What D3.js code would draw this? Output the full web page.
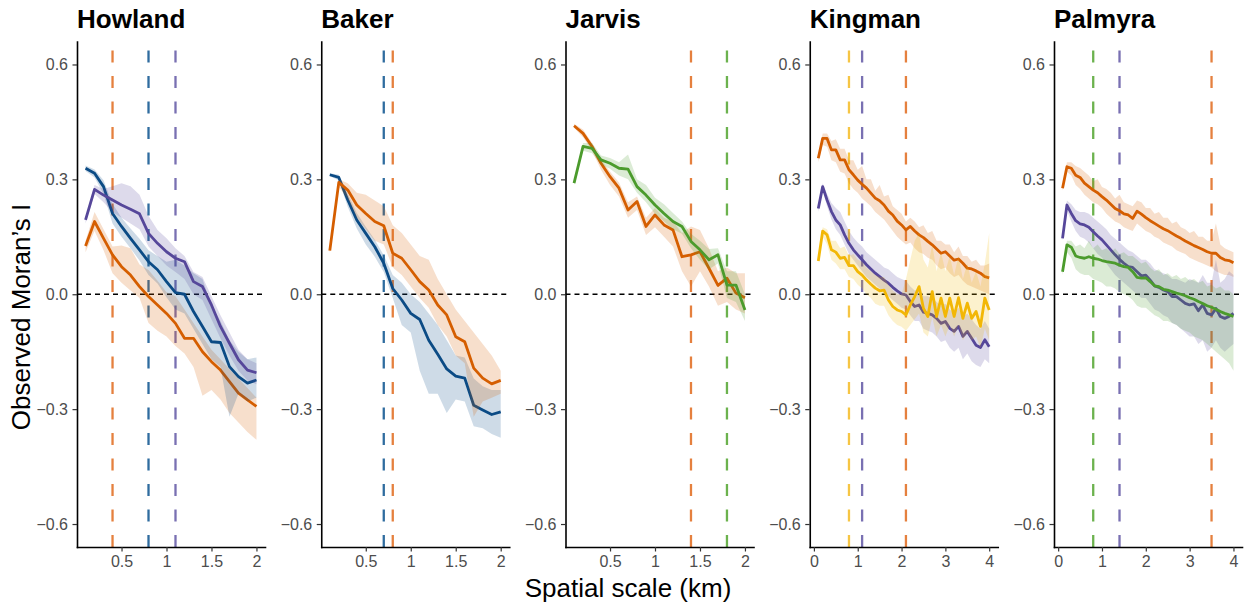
<!DOCTYPE html>
<html>
<head>
<meta charset="utf-8">
<script src="https://cdn.jsdelivr.net/npm/d3@7/dist/d3.min.js"></script>
<style>
  html, body { margin: 0; padding: 0; background: #fff; }
  svg { display: block; font-family: "Liberation Sans", Arial, sans-serif; }
</style>
</head>
<body>
<svg id="chart" width="1244" height="604"></svg>
<script>
// ---------------- DATA ----------------
const panelTitles = ["Howland", "Baker", "Jarvis", "Kingman", "Palmyra"];
const yTickValues = [-0.6, -0.3, 0, 0.3, 0.6];
const xTicksShort = [0.5, 1, 1.5, 2];
const xTicksLong = [0, 1, 2, 3, 4];

const scaleShort = [0.1,0.2,0.3,0.4,0.5,0.6,0.7,0.8,0.9,1.0,1.1,1.2,1.3,1.4,1.5,1.6,1.7,1.8,1.9,2.0];
const scaleLong = [0.1,0.2,0.3,0.4,0.5,0.6,0.7,0.8,0.9,1.0,1.1,1.2,1.3,1.4,1.5,1.6,1.7,1.8,1.9,2.0,
                   2.1,2.2,2.3,2.4,2.5,2.6,2.7,2.8,2.9,3.0,3.1,3.2,3.3,3.4,3.5,3.6,3.7,3.8,3.9,4.0];

// Howland
const howlandOrange   = [0.126,0.19,0.146,0.103,0.072,0.05,0.02,-0.006,-0.028,-0.05,-0.076,-0.115,-0.115,-0.15,-0.176,-0.198,-0.228,-0.258,-0.276,-0.293];
const howlandOrangeLo = [0.11,0.165,0.115,0.055,0.03,0.01,-0.01,-0.075,-0.095,-0.11,-0.135,-0.155,-0.19,-0.265,-0.25,-0.275,-0.31,-0.335,-0.36,-0.38];
const howlandOrangeHi = [0.14,0.215,0.17,0.125,0.127,0.12,0.078,0.063,0.035,0.005,-0.005,-0.04,-0.075,-0.11,-0.145,-0.17,-0.195,-0.22,-0.245,-0.27];
const howlandBlue     = [0.329,0.316,0.281,0.211,0.177,0.146,0.116,0.085,0.064,0.033,0.004,0.0,-0.045,-0.084,-0.124,-0.126,-0.189,-0.215,-0.232,-0.224];
const howlandBlueLo   = [0.322,0.305,0.262,0.185,0.15,0.12,0.088,0.05,0.028,-0.008,-0.04,-0.05,-0.09,-0.13,-0.17,-0.19,-0.32,-0.26,-0.28,-0.27];
const howlandBlueHi   = [0.336,0.326,0.298,0.236,0.2,0.172,0.145,0.115,0.1,0.085,0.09,0.075,0.055,0.04,-0.03,-0.07,-0.12,-0.15,-0.17,-0.165];
const howlandPurple   = [0.194,0.274,0.259,0.246,0.233,0.222,0.21,0.159,0.133,0.111,0.094,0.085,0.033,0.02,-0.028,-0.084,-0.128,-0.171,-0.198,-0.205];
const howlandPurpleLo = [0.185,0.262,0.24,0.215,0.2,0.185,0.17,0.125,0.1,0.075,0.058,0.04,0.0,-0.015,-0.065,-0.115,-0.16,-0.2,-0.225,-0.235];
const howlandPurpleHi = [0.2,0.285,0.275,0.282,0.29,0.282,0.26,0.205,0.168,0.146,0.12,0.1,0.058,0.045,-0.005,-0.055,-0.1,-0.145,-0.17,-0.18];

// Baker
const bakerBlue     = [0.312,0.305,0.246,0.194,0.159,0.124,0.081,0.015,-0.015,-0.05,-0.066,-0.12,-0.157,-0.195,-0.214,-0.219,-0.29,-0.302,-0.314,-0.307];
const bakerBlueLo   = [0.308,0.298,0.228,0.172,0.13,0.098,0.058,-0.01,-0.08,-0.1,-0.2,-0.26,-0.26,-0.31,-0.275,-0.28,-0.345,-0.35,-0.365,-0.375];
const bakerBlueHi   = [0.316,0.312,0.262,0.212,0.176,0.142,0.102,0.05,0.03,0.0,-0.02,-0.05,-0.08,-0.12,-0.16,-0.165,-0.22,-0.24,-0.25,-0.25];
const bakerOrange   = [0.114,0.292,0.272,0.233,0.211,0.19,0.179,0.107,0.094,0.064,0.033,0.011,-0.028,-0.054,-0.111,-0.124,-0.193,-0.219,-0.234,-0.225];
const bakerOrangeLo = [0.108,0.28,0.25,0.2,0.17,0.14,0.13,0.07,0.05,0.02,-0.01,-0.035,-0.08,-0.11,-0.16,-0.18,-0.32,-0.28,-0.27,-0.26];
const bakerOrangeHi = [0.12,0.3,0.29,0.265,0.26,0.245,0.23,0.18,0.16,0.13,0.1,0.09,0.04,0.0,-0.04,-0.07,-0.1,-0.13,-0.16,-0.2];

// Jarvis
const jarvisOrange   = [0.44,0.42,0.386,0.342,0.307,0.277,0.22,0.242,0.177,0.207,0.181,0.168,0.098,0.103,0.111,0.068,0.023,0.042,0.003,-0.009];
const jarvisOrangeLo = [0.435,0.41,0.375,0.325,0.285,0.255,0.2,0.22,0.155,0.175,0.15,0.125,0.06,0.02,0.06,0.02,-0.03,-0.02,-0.04,-0.05];
const jarvisOrangeHi = [0.445,0.43,0.395,0.352,0.32,0.292,0.24,0.255,0.2,0.225,0.2,0.19,0.16,0.177,0.168,0.12,0.06,0.07,0.055,0.055];
const jarvisGreen    = [0.29,0.386,0.381,0.351,0.342,0.329,0.327,0.281,0.259,0.233,0.211,0.19,0.177,0.138,0.116,0.09,0.103,0.024,0.024,-0.041];
const jarvisGreenLo  = [0.285,0.375,0.368,0.338,0.328,0.31,0.3,0.265,0.24,0.21,0.19,0.17,0.158,0.12,0.09,0.065,0.08,-0.01,-0.02,-0.07];
const jarvisGreenHi  = [0.295,0.395,0.395,0.362,0.356,0.345,0.365,0.3,0.285,0.252,0.235,0.212,0.19,0.158,0.14,0.118,0.12,0.06,0.06,0.0];

// Kingman
const kingmanOrange   = [0.355,0.407,0.407,0.377,0.377,0.351,0.351,0.325,0.312,0.298,0.287,0.277,0.264,0.251,0.244,0.233,0.217,0.207,0.191,0.181,0.168,0.177,0.165,0.155,0.148,0.138,0.129,0.118,0.107,0.111,0.1,0.089,0.092,0.081,0.068,0.066,0.061,0.055,0.046,0.043];
const kingmanOrangeLo = [0.345,0.39,0.385,0.35,0.345,0.32,0.315,0.29,0.275,0.265,0.25,0.24,0.23,0.215,0.205,0.195,0.18,0.165,0.15,0.14,0.13,0.135,0.12,0.11,0.105,0.095,0.09,0.075,0.065,0.07,0.055,0.045,0.05,0.035,0.025,0.02,0.015,0.01,0.005,0.0];
const kingmanOrangeHi = [0.365,0.42,0.42,0.4,0.405,0.38,0.38,0.35,0.35,0.325,0.335,0.3,0.3,0.27,0.285,0.255,0.26,0.23,0.22,0.21,0.19,0.2,0.19,0.175,0.18,0.16,0.165,0.14,0.14,0.13,0.13,0.11,0.125,0.1,0.1,0.085,0.09,0.075,0.075,0.08];
const kingmanPurple   = [0.224,0.281,0.246,0.216,0.194,0.181,0.155,0.133,0.116,0.103,0.09,0.077,0.066,0.055,0.046,0.037,0.029,0.018,0.009,0.001,-0.002,-0.019,-0.032,-0.028,-0.047,-0.05,-0.054,-0.063,-0.076,-0.071,-0.089,-0.097,-0.084,-0.11,-0.097,-0.115,-0.133,-0.139,-0.119,-0.137];
const kingmanPurpleLo = [0.215,0.27,0.23,0.195,0.17,0.155,0.13,0.105,0.09,0.075,0.06,0.045,0.035,0.025,0.015,0.005,-0.005,-0.015,-0.025,-0.035,-0.04,-0.055,-0.07,-0.07,-0.09,-0.095,-0.1,-0.11,-0.125,-0.12,-0.14,-0.15,-0.14,-0.17,-0.155,-0.175,-0.185,-0.19,-0.17,-0.18];
const kingmanPurpleHi = [0.232,0.29,0.262,0.238,0.225,0.215,0.19,0.165,0.148,0.135,0.125,0.11,0.1,0.09,0.08,0.07,0.065,0.055,0.045,0.04,0.035,0.02,0.01,0.012,-0.005,-0.005,-0.01,-0.02,-0.03,-0.025,-0.04,-0.05,-0.035,-0.06,-0.05,-0.065,-0.08,-0.09,-0.07,-0.09];
const kingmanYellow   = [0.087,0.165,0.155,0.116,0.11,0.094,0.096,0.075,0.075,0.059,0.05,0.037,0.026,0.016,0.009,0.011,-0.015,-0.032,-0.041,-0.045,-0.054,-0.028,-0.006,0.02,-0.037,-0.058,0.007,-0.058,-0.01,-0.058,-0.01,-0.058,-0.009,-0.063,-0.023,-0.063,-0.045,-0.084,-0.01,-0.041];
const kingmanYellowLo = [0.08,0.15,0.13,0.09,0.08,0.065,0.065,0.045,0.04,0.025,0.015,0.0,-0.01,-0.025,-0.03,-0.03,-0.055,-0.07,-0.08,-0.085,-0.095,-0.08,-0.065,-0.05,-0.1,-0.11,-0.06,-0.11,-0.08,-0.11,-0.08,-0.11,-0.08,-0.12,-0.1,-0.12,-0.11,-0.14,-0.09,-0.12];
const kingmanYellowHi = [0.095,0.175,0.17,0.14,0.14,0.12,0.125,0.1,0.105,0.09,0.085,0.07,0.06,0.05,0.045,0.045,0.025,0.01,0.0,0.0,0.04,0.09,0.14,0.16,0.09,0.07,0.13,0.06,0.11,0.06,0.1,0.05,0.1,0.04,0.08,0.03,0.06,0.02,0.08,0.16];

// Palmyra
const palmyraOrange   = [0.277,0.333,0.329,0.311,0.305,0.29,0.281,0.272,0.265,0.255,0.246,0.235,0.224,0.218,0.21,0.207,0.198,0.217,0.209,0.2,0.192,0.185,0.178,0.171,0.166,0.159,0.152,0.146,0.139,0.133,0.127,0.122,0.117,0.111,0.107,0.107,0.096,0.09,0.088,0.082];
const palmyraOrangeLo = [0.27,0.32,0.31,0.285,0.275,0.26,0.25,0.24,0.235,0.225,0.21,0.2,0.19,0.185,0.175,0.17,0.165,0.185,0.175,0.165,0.16,0.15,0.145,0.135,0.13,0.125,0.115,0.11,0.105,0.095,0.09,0.085,0.08,0.075,0.07,0.06,0.055,0.05,0.05,0.045];
const palmyraOrangeHi = [0.285,0.345,0.345,0.335,0.33,0.32,0.31,0.295,0.3,0.28,0.275,0.265,0.25,0.26,0.24,0.235,0.23,0.245,0.24,0.225,0.225,0.21,0.215,0.2,0.2,0.185,0.19,0.175,0.17,0.16,0.165,0.15,0.15,0.14,0.14,0.185,0.13,0.12,0.115,0.11];
const palmyraPurple   = [0.146,0.233,0.211,0.192,0.184,0.181,0.175,0.163,0.152,0.142,0.129,0.116,0.103,0.091,0.081,0.072,0.07,0.059,0.048,0.05,0.037,0.022,0.018,0.011,0.007,-0.006,-0.006,-0.015,-0.024,-0.028,-0.025,-0.043,-0.028,-0.05,-0.054,-0.037,-0.058,-0.063,-0.058,-0.05];
const palmyraPurpleLo = [0.14,0.22,0.19,0.165,0.15,0.145,0.135,0.12,0.105,0.095,0.08,0.065,0.05,0.04,0.03,0.02,0.01,0.0,-0.01,-0.01,-0.025,-0.04,-0.045,-0.055,-0.06,-0.075,-0.08,-0.09,-0.1,-0.11,-0.11,-0.13,-0.12,-0.15,-0.14,-0.12,-0.14,-0.15,-0.14,-0.13];
const palmyraPurpleHi = [0.152,0.245,0.235,0.22,0.215,0.215,0.21,0.2,0.19,0.18,0.17,0.155,0.145,0.135,0.125,0.115,0.11,0.1,0.09,0.09,0.08,0.065,0.06,0.055,0.05,0.04,0.04,0.035,0.03,0.04,0.035,0.03,0.05,0.03,0.03,0.09,0.03,0.04,0.06,0.05];
const palmyraGreen    = [0.059,0.129,0.123,0.1,0.096,0.094,0.098,0.094,0.092,0.088,0.085,0.083,0.081,0.076,0.072,0.07,0.059,0.044,0.042,0.043,0.033,0.022,0.02,0.013,0.011,0.007,0.003,0.0,-0.004,-0.009,-0.013,-0.019,-0.024,-0.03,-0.034,-0.039,-0.045,-0.05,-0.054,-0.058];
const palmyraGreenLo  = [0.05,0.11,0.095,0.065,0.055,0.05,0.05,0.04,0.035,0.03,0.02,0.02,0.015,0.005,0.0,-0.005,-0.015,-0.03,-0.035,-0.035,-0.045,-0.055,-0.06,-0.07,-0.07,-0.075,-0.08,-0.09,-0.095,-0.1,-0.11,-0.115,-0.12,-0.13,-0.14,-0.15,-0.16,-0.17,-0.18,-0.2];
const palmyraGreenHi  = [0.065,0.14,0.14,0.125,0.13,0.12,0.14,0.12,0.13,0.115,0.12,0.11,0.12,0.105,0.11,0.1,0.1,0.09,0.08,0.085,0.07,0.06,0.065,0.05,0.055,0.045,0.05,0.04,0.045,0.035,0.04,0.03,0.035,0.02,0.025,0.015,0.02,0.01,0.01,0.0];

// Threshold scales (vertical dashed lines)
const howlandThresholds = [{x: 0.4, s: "orange"}, {x: 0.8, s: "blue"}, {x: 1.1, s: "purple"}];
const bakerThresholds   = [{x: 0.7, s: "blue"}, {x: 0.8, s: "orange"}];
const jarvisThresholds  = [{x: 1.4, s: "orange"}, {x: 1.8, s: "green"}];
const kingmanThresholds = [{x: 0.8, s: "yellow"}, {x: 1.1, s: "purple"}, {x: 2.1, s: "orange"}];
const palmyraThresholds = [{x: 0.8, s: "green"}, {x: 1.4, s: "purple"}, {x: 3.5, s: "orange"}];

// ---------------- STYLE ----------------
const lineColors  = {orange: "#D55E00", blue: "#0B4B85", purple: "#56479A", green: "#4B9B2C", yellow: "#F2B705"};
const vlineColors = {orange: "#E5803E", blue: "#2F6C9F", purple: "#7970B2", green: "#6CB24E", yellow: "#F6C544"};

const panels = [
  {title: panelTitles[0], xs: scaleShort, xTicks: xTicksShort, xDomain: [0.005, 2.095], vlines: howlandThresholds,
   series: [
     {s: "orange", v: howlandOrange, lo: howlandOrangeLo, hi: howlandOrangeHi},
     {s: "blue", v: howlandBlue, lo: howlandBlueLo, hi: howlandBlueHi},
     {s: "purple", v: howlandPurple, lo: howlandPurpleLo, hi: howlandPurpleHi}]},
  {title: panelTitles[1], xs: scaleShort, xTicks: xTicksShort, xDomain: [0.005, 2.095], vlines: bakerThresholds,
   series: [
     {s: "blue", v: bakerBlue, lo: bakerBlueLo, hi: bakerBlueHi},
     {s: "orange", v: bakerOrange, lo: bakerOrangeLo, hi: bakerOrangeHi}]},
  {title: panelTitles[2], xs: scaleShort, xTicks: xTicksShort, xDomain: [0.005, 2.095], vlines: jarvisThresholds,
   series: [
     {s: "orange", v: jarvisOrange, lo: jarvisOrangeLo, hi: jarvisOrangeHi},
     {s: "green", v: jarvisGreen, lo: jarvisGreenLo, hi: jarvisGreenHi}]},
  {title: panelTitles[3], xs: scaleLong, xTicks: xTicksLong, xDomain: [-0.095, 4.195], vlines: kingmanThresholds,
   series: [
     {s: "orange", v: kingmanOrange, lo: kingmanOrangeLo, hi: kingmanOrangeHi},
     {s: "purple", v: kingmanPurple, lo: kingmanPurpleLo, hi: kingmanPurpleHi},
     {s: "yellow", v: kingmanYellow, lo: kingmanYellowLo, hi: kingmanYellowHi}]},
  {title: panelTitles[4], xs: scaleLong, xTicks: xTicksLong, xDomain: [-0.095, 4.195], vlines: palmyraThresholds,
   series: [
     {s: "orange", v: palmyraOrange, lo: palmyraOrangeLo, hi: palmyraOrangeHi},
     {s: "purple", v: palmyraPurple, lo: palmyraPurpleLo, hi: palmyraPurpleHi},
     {s: "green", v: palmyraGreen, lo: palmyraGreenLo, hi: palmyraGreenHi}]}
];

// ---------------- LAYOUT ----------------
const svg = d3.select("#chart");
const firstLeft = 77, panelStep = 244.25, panelW = 188;
const panelTop = 41.5, panelBottom = 547;
const y = d3.scaleLinear().domain([-0.66, 0.66]).range([panelBottom, panelTop]);
const tickFont = 16, tickColor = "#4D4D4D";

panels.forEach((p, i) => {
  const left = firstLeft + i * panelStep;
  const x = d3.scaleLinear().domain(p.xDomain).range([left, left + panelW]);
  const g = svg.append("g");

  // zero reference line
  g.append("line")
    .attr("x1", left).attr("x2", left + panelW)
    .attr("y1", y(0)).attr("y2", y(0))
    .attr("stroke", "#000").attr("stroke-width", 1.5)
    .attr("stroke-dasharray", "5,4");

  // threshold vertical dashed lines (drawn bottom to top)
  p.vlines.forEach(vl => {
    g.append("path")
      .attr("d", `M${x(vl.x)},${panelBottom}L${x(vl.x)},${panelTop}`)
      .attr("stroke", vlineColors[vl.s]).attr("stroke-width", 2.3)
      .attr("fill", "none")
      .attr("stroke-dasharray", "12,13.5");
  });

  // series: ribbon then line
  p.series.forEach(se => {
    const pts = p.xs.map((xv, k) => ({x: xv, v: se.v[k], lo: se.lo[k], hi: se.hi[k]}));
    g.append("path")
      .datum(pts)
      .attr("d", d3.area().x(d => x(d.x)).y0(d => y(d.lo)).y1(d => y(d.hi)))
      .attr("fill", lineColors[se.s]).attr("fill-opacity", 0.2)
      .attr("stroke", "none");
    g.append("path")
      .datum(pts)
      .attr("d", d3.line().x(d => x(d.x)).y(d => y(d.v)))
      .attr("fill", "none")
      .attr("stroke", lineColors[se.s]).attr("stroke-width", 2.8)
      .attr("stroke-linejoin", "round");
  });

  // axes
  const yAxis = d3.axisLeft(y).tickValues(yTickValues)
    .tickFormat(d3.format(".1f")).tickSize(4.5).tickSizeOuter(0).tickPadding(4.5);
  const ya = g.append("g").attr("transform", `translate(${left},0)`).call(yAxis);
  const xAxis = d3.axisBottom(x).tickValues(p.xTicks)
    .tickFormat(d => String(d)).tickSize(4.5).tickSizeOuter(0).tickPadding(4);
  const xa = g.append("g").attr("transform", `translate(0,${panelBottom})`).call(xAxis);

  [ya, xa].forEach(a => {
    a.select(".domain").attr("stroke", "#000").attr("stroke-width", 1.6).attr("stroke-linecap", "square");
    a.selectAll(".tick line").attr("stroke", "#333").attr("stroke-width", 1.2);
    a.selectAll(".tick text")
      .attr("fill", tickColor)
      .style("font-size", tickFont + "px")
      .style("font-family", '"Liberation Sans", Arial, sans-serif');
  });

  // title
  svg.append("text")
    .attr("x", left).attr("y", 28)
    .style("font-size", "26px").style("font-weight", "bold")
    .attr("fill", "#000")
    .text(p.title);
});

// axis titles
svg.append("text")
  .attr("x", 628).attr("y", 597)
  .attr("text-anchor", "middle")
  .style("font-size", "26px").attr("fill", "#000")
  .text("Spatial scale (km)");

svg.append("text")
  .attr("transform", "translate(29.5,317) rotate(-90)")
  .attr("text-anchor", "middle")
  .style("font-size", "26px").attr("fill", "#000")
  .text("Observed Moran’s I");
</script>
</body>
</html>
